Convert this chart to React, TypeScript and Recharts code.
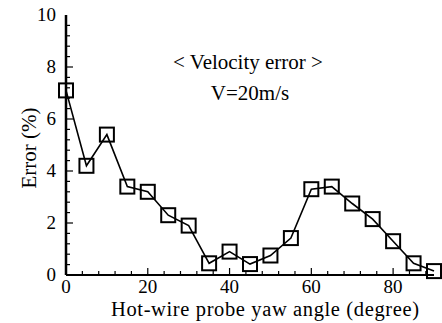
import React from 'react';
import { LineChart, Line, XAxis, YAxis } from 'recharts';

const angles = [0, 5, 10, 15, 20, 25, 30, 35, 40, 45, 50, 55, 60, 65, 70, 75, 80, 85, 90];
const errors = [7.1, 4.2, 5.4, 3.4, 3.2, 2.3, 1.9, 0.45, 0.9, 0.42, 0.75, 1.42, 3.3, 3.4, 2.75, 2.15, 1.3, 0.45, 0.15];
const xMajor = [0, 20, 40, 60, 80];
const xTicks = [0, 4, 8, 12, 16, 20, 24, 28, 32, 36, 40, 44, 48, 52, 56, 60, 64, 68, 72, 76, 80, 84, 88];
const yMajor = [0, 2, 4, 6, 8, 10];
const yTicks = [0, 0.4, 0.8, 1.2, 1.6, 2, 2.4, 2.8, 3.2, 3.6, 4, 4.4, 4.8, 5.2, 5.6, 6, 6.4, 6.8, 7.2, 7.6, 8, 8.4, 8.8, 9.2, 9.6, 10];

const data = angles.map((a, i) => ({ angle: a, err: errors[i] }));
const FONT = 'Liberation Serif';

const isMajor = (v: number, list: number[]) => list.some((m) => Math.abs(m - v) < 1e-6);

const XTick = (props: any) => {
  const { x, y, payload } = props;
  const major = isMajor(payload.value, xMajor);
  return (
    <g>
      {payload.value !== 0 && (
        <line x1={x} x2={x} y1={y} y2={y - (major ? 7 : 4)} stroke="#000" strokeWidth={1.2} />
      )}
      {major && (
        <text x={x} y={y + 18} textAnchor="middle" fontFamily={FONT} fontSize={19} fill="#000">
          {payload.value}
        </text>
      )}
    </g>
  );
};

const YTick = (props: any) => {
  const { x, y, payload } = props;
  const major = isMajor(payload.value, yMajor);
  return (
    <g>
      {payload.value !== 0 && payload.value !== 10 && (
        <line x1={x} x2={x + (major ? 7 : 4)} y1={y} y2={y} stroke="#000" strokeWidth={1.2} />
      )}
      {major && (
        <text x={x - 10} y={y + 6} textAnchor="end" fontFamily={FONT} fontSize={19} fill="#000">
          {payload.value}
        </text>
      )}
    </g>
  );
};

const Square = (props: any) => {
  const { cx, cy } = props;
  if (cx == null || cy == null) return <g />;
  return <rect x={cx - 7} y={cy - 7} width={14} height={14} fill="none" stroke="#000" strokeWidth={2} />;
};

export default function App() {
  return (
    <div style={{ position: 'absolute', left: 0, top: 0, background: '#fff' }}>
      <LineChart width={442} height={323} data={data} margin={{ top: 15, right: 8, bottom: 0, left: 0 }}>
        <XAxis
          xAxisId="b"
          dataKey="angle"
          type="number"
          domain={[0, 90]}
          ticks={xTicks}
          interval={0}
          tick={<XTick />}
          tickLine={false}
          tickSize={0}
          tickMargin={0}
          height={48}
          axisLine={{ stroke: '#000', strokeWidth: 2 }}
        />
        <XAxis xAxisId="t" orientation="top" type="number" domain={[0, 90]} dataKey="angle" tick={false} tickLine={false} height={0} axisLine={{ stroke: '#000', strokeWidth: 1.5 }} />
        <YAxis
          yAxisId="l"
          type="number"
          domain={[0, 10]}
          ticks={yTicks}
          interval={0}
          tick={<YTick />}
          tickLine={false}
          tickSize={0}
          tickMargin={0}
          width={66}
          axisLine={{ stroke: '#000', strokeWidth: 2.5 }}
        />
        <YAxis yAxisId="r" orientation="right" type="number" domain={[0, 10]} tick={false} tickLine={false} width={0} axisLine={{ stroke: '#000', strokeWidth: 1.5 }} />
        <Line
          xAxisId="b"
          yAxisId="l"
          type="linear"
          dataKey="err"
          stroke="#000"
          strokeWidth={1.6}
          dot={<Square />}
          activeDot={false}
          isAnimationActive={false}
        />
        <text x={248} y={69} textAnchor="middle" fontFamily={FONT} fontSize={21} fill="#000">
          {'< Velocity error >'}
        </text>
        <text x={250} y={100} textAnchor="middle" fontFamily={FONT} fontSize={21} fill="#000">
          V=20m/s
        </text>
        <text x={265} y={316} textAnchor="middle" fontFamily={FONT} fontSize={20.5} fill="#000" textLength={308} lengthAdjust="spacing">
          Hot-wire probe yaw angle (degree)
        </text>
        <text x={36} y={148} textAnchor="middle" fontFamily={FONT} fontSize={21} fill="#000" transform="rotate(-90 36 148)">
          Error (%)
        </text>
      </LineChart>
    </div>
  );
}
